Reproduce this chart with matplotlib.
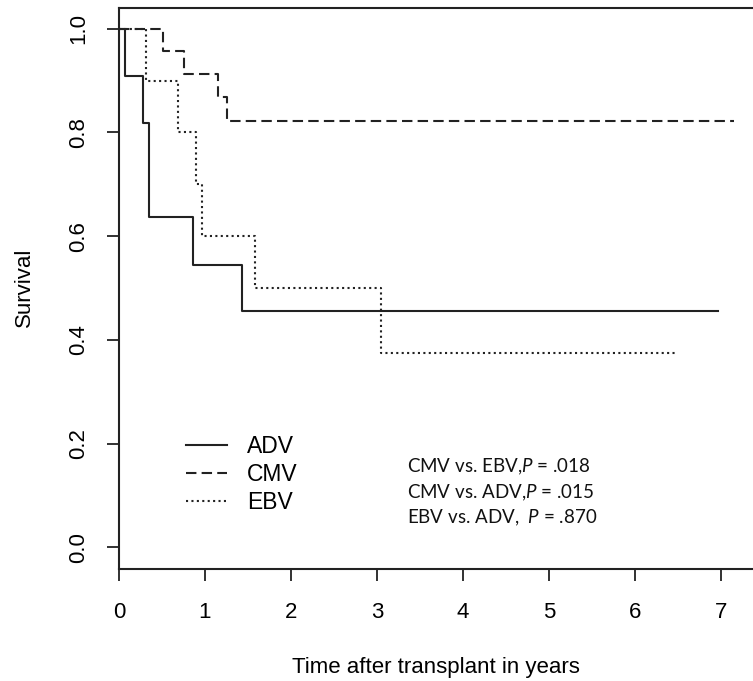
import matplotlib
matplotlib.use("Agg")
import matplotlib.pyplot as plt

# Kaplan-Meier step data (time in years, survival)
adv_t = [0, 0.07, 0.28, 0.35, 0.865, 1.435, 6.97]
adv_s = [1.0, 0.909, 0.818, 0.636, 0.545, 0.455, 0.455]
cmv_t = [0, 0.51, 0.75, 1.15, 1.25, 7.15]
cmv_s = [1.0, 0.957, 0.913, 0.869, 0.822, 0.822]
ebv_t = [0, 0.31, 0.69, 0.90, 0.965, 1.58, 3.05, 6.49]
ebv_s = [1.0, 0.90, 0.80, 0.70, 0.60, 0.50, 0.375, 0.375]

series_names = ["ADV", "CMV", "EBV"]
x_ticks = [0, 1, 2, 3, 4, 5, 6, 7]
y_ticks = [0.0, 0.2, 0.4, 0.6, 0.8, 1.0]
y_tick_labels = ["0.0", "0.2", "0.4", "0.6", "0.8", "1.0"]
p_texts = ["CMV vs. EBV,$P$ = .018", "CMV vs. ADV,$P$ = .015", "EBV vs. ADV,  $P$ = .870"]

plt.rcParams['font.family'] = ['Liberation Sans', 'DejaVu Sans']
plt.rcParams['mathtext.fontset'] = 'custom'
plt.rcParams['mathtext.it'] = 'Lato:italic'
plt.rcParams['mathtext.rm'] = 'Lato'

W, H = 753, 681
L, B, T = 119, 569, 8
fig = plt.figure(figsize=(W / 100, H / 100), dpi=100)
ax = fig.add_axes([L / W, 1 - B / H, 1 - L / W, (B - T) / H])
aw, ah = W - L, B - T

lw = 1.5
ax.step(adv_t, adv_s, where='post', color='#222222', lw=lw, linestyle='-', label=series_names[0])
ax.step(cmv_t, cmv_s, where='post', color='#222222', lw=lw, linestyle=(0, (5, 2.5)), label=series_names[1])
ax.step(ebv_t, ebv_s, where='post', color='#222222', lw=lw, linestyle=(0, (1, 1.6)), label=series_names[2])

ax.set_xlim(0, aw / 86.0)
ax.set_ylim(-0.042, 1.04)
ax.spines['right'].set_visible(False)
for s in ['left', 'bottom', 'top']:
    ax.spines[s].set_linewidth(1.5)
    ax.spines[s].set_color('#222222')

ax.set_xticks(x_ticks)
ax.set_xticklabels([str(v) for v in x_ticks])
ax.set_yticks(y_ticks)
ax.set_yticklabels(y_tick_labels, rotation=90, va='center')
ax.tick_params(axis='both', direction='out', length=8.6, width=1.3, labelsize=16, color='#222222')
ax.tick_params(axis='x', pad=15.5)
ax.tick_params(axis='y', pad=13)

ax.set_xlabel("Time after transplant in years", fontsize=16)
ax.xaxis.set_label_coords((436 - L) / aw, (B - 667) / ah)
ax.xaxis.label.set_va('center')
ax.set_ylabel("Survival", fontsize=16)
ax.yaxis.set_label_coords((24 - L) / aw, (B - 287) / ah)
ax.yaxis.label.set_va('center')

leg = ax.legend(loc='upper left', bbox_to_anchor=(165 / W, 1 - 414 / H),
                bbox_transform=fig.transFigure, frameon=False, fontsize=16.5,
                handlelength=1.8, handletextpad=0.87, labelspacing=0.22)

for i, t in enumerate(p_texts):
    fig.text(407 / W, 1 - (467 + 25.5 * i) / H, t, fontsize=13.5, family='Lato',
             va='center', ha='left', color='#111111')

fig.savefig("out.png", dpi=100)
